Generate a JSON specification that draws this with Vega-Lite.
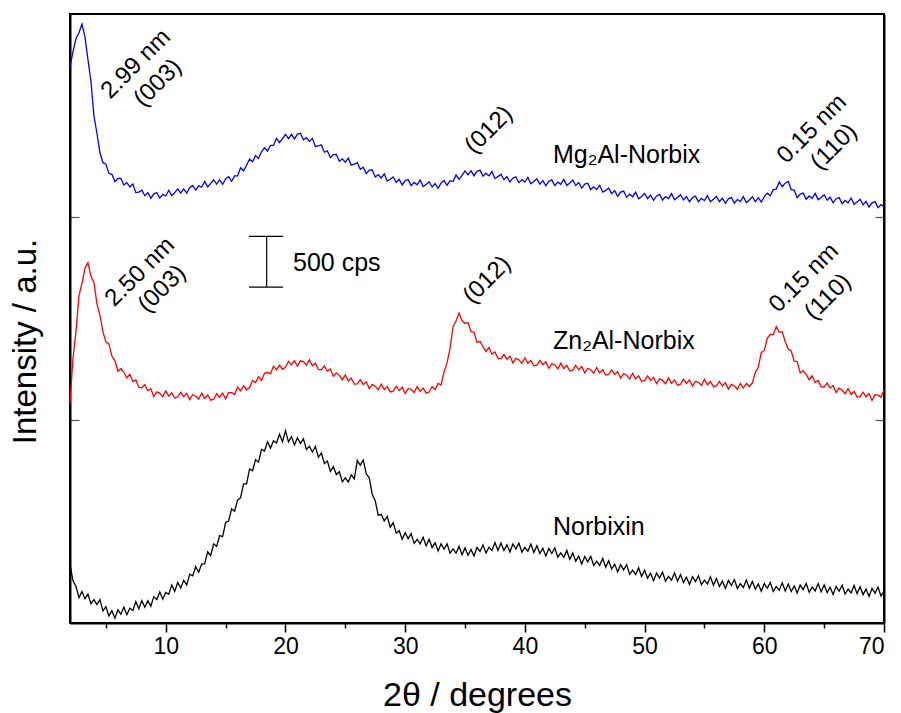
{
  "$schema": "https://vega.github.io/schema/vega-lite/v6.json",
  "autosize": {"type": "none"},
  "padding": {"left": 70, "top": 14, "right": 17, "bottom": 90},
  "width": 814,
  "height": 609,
  "background": "white",
  "config": {
    "view": {"stroke": "black", "strokeWidth": 2},
    "font": "Liberation Sans",
    "axis": {"grid": false, "domainColor": "black", "domainWidth": 2, "labelFont": "Liberation Sans", "titleFont": "Liberation Sans", "labelColor": "black", "titleColor": "black", "titleFontWeight": "normal"}
  },
  "datasets": {
    "xrd": [
{"t":2.0,"m":5480,"z":2167,"n":580},{"t":2.25,"m":5630,"z":2610,"n":415},{"t":2.5,"m":5758,"z":2870,"n":360},{"t":2.75,"m":5815,"z":3225,"n":250},
{"t":3.0,"m":5900,"z":3345,"n":310},{"t":3.25,"m":5775,"z":3495,"n":240},{"t":3.5,"m":5550,"z":3551,"n":285},{"t":3.75,"m":5335,"z":3415,"n":190},
{"t":4.0,"m":4995,"z":3355,"n":230},{"t":4.25,"m":4825,"z":3145,"n":182},{"t":4.5,"m":4635,"z":3034,"n":230},{"t":4.75,"m":4535,"z":2870,"n":120},
{"t":5.0,"m":4520,"z":2770,"n":160},{"t":5.25,"m":4430,"z":2750,"n":70},{"t":5.5,"m":4420,"z":2630,"n":120},{"t":5.75,"m":4350,"z":2585,"n":48},
{"t":6.0,"m":4380,"z":2480,"n":129},{"t":6.25,"m":4380,"z":2505,"n":87},{"t":6.5,"m":4315,"z":2470,"n":155},{"t":6.75,"m":4339,"z":2415,"n":82},
{"t":7.0,"m":4295,"z":2450,"n":145},{"t":7.25,"m":4325,"z":2379,"n":123},{"t":7.5,"m":4240,"z":2395,"n":210},{"t":7.75,"m":4245,"z":2325,"n":140},
{"t":8.0,"m":4265,"z":2315,"n":220},{"t":8.25,"m":4210,"z":2348,"n":155},{"t":8.5,"m":4240,"z":2290,"n":220},{"t":8.75,"m":4185,"z":2308,"n":165},
{"t":9.0,"m":4226,"z":2230,"n":260},{"t":9.25,"m":4241,"z":2277,"n":230},{"t":9.5,"m":4186,"z":2263,"n":305},{"t":9.75,"m":4223,"z":2230,"n":235},
{"t":10.0,"m":4207,"z":2287,"n":300},{"t":10.25,"m":4263,"z":2235,"n":282},{"t":10.5,"m":4210,"z":2268,"n":375},{"t":10.75,"m":4241,"z":2217,"n":312},
{"t":11.0,"m":4278,"z":2226,"n":400},{"t":11.25,"m":4235,"z":2273,"n":345},{"t":11.5,"m":4277,"z":2230,"n":420},{"t":11.75,"m":4235,"z":2263,"n":375},
{"t":12.0,"m":4288,"z":2201,"n":480},{"t":12.25,"m":4311,"z":2249,"n":465},{"t":12.5,"m":4265,"z":2237,"n":555},{"t":12.75,"m":4307,"z":2205,"n":500},
{"t":13.0,"m":4293,"z":2264,"n":580},{"t":13.25,"m":4350,"z":2213,"n":585},{"t":13.5,"m":4297,"z":2246,"n":700},{"t":13.75,"m":4330,"z":2196,"n":665},
{"t":14.0,"m":4367,"z":2206,"n":780},{"t":14.25,"m":4323,"z":2259,"n":755},{"t":14.5,"m":4365,"z":2222,"n":860},{"t":14.75,"m":4322,"z":2263,"n":850},
{"t":15.0,"m":4375,"z":2209,"n":990},{"t":15.25,"m":4398,"z":2269,"n":1005},{"t":15.5,"m":4352,"z":2270,"n":1125},{"t":15.75,"m":4405,"z":2252,"n":1100},
{"t":16.0,"m":4405,"z":2325,"n":1210},{"t":16.25,"m":4485,"z":2287,"n":1235},{"t":16.5,"m":4455,"z":2335,"n":1370},{"t":16.75,"m":4510,"z":2298,"n":1370},
{"t":17.0,"m":4571,"z":2320,"n":1518},{"t":17.25,"m":4545,"z":2390,"n":1500},{"t":17.5,"m":4605,"z":2370,"n":1610},{"t":17.75,"m":4577,"z":2427,"n":1585},
{"t":18.0,"m":4645,"z":2390,"n":1710},{"t":18.25,"m":4682,"z":2460,"n":1695},{"t":18.5,"m":4650,"z":2470,"n":1785},{"t":18.75,"m":4705,"z":2455,"n":1723},
{"t":19.0,"m":4705,"z":2530,"n":1795},{"t":19.25,"m":4775,"z":2493,"n":1773},{"t":19.5,"m":4733,"z":2540,"n":1860},{"t":19.75,"m":4772,"z":2500,"n":1786},
{"t":20.0,"m":4815,"z":2520,"n":1895},{"t":20.25,"m":4773,"z":2578,"n":1785},{"t":20.5,"m":4815,"z":2545,"n":1835},{"t":20.75,"m":4769,"z":2585,"n":1755},
{"t":21.0,"m":4817,"z":2530,"n":1825},{"t":21.25,"m":4825,"z":2583,"n":1768},{"t":21.5,"m":4760,"z":2576,"n":1815},{"t":21.75,"m":4781,"z":2541,"n":1710},
{"t":22.0,"m":4745,"z":2595,"n":1740},{"t":22.25,"m":4775,"z":2535,"n":1685},{"t":22.5,"m":4695,"z":2560,"n":1740},{"t":22.75,"m":4700,"z":2498,"n":1633},
{"t":23.0,"m":4710,"z":2495,"n":1675},{"t":23.25,"m":4638,"z":2533,"n":1570},{"t":23.5,"m":4652,"z":2482,"n":1596},{"t":23.75,"m":4585,"z":2503,"n":1493},
{"t":24.0,"m":4615,"z":2430,"n":1540},{"t":24.25,"m":4617,"z":2465,"n":1463},{"t":24.5,"m":4550,"z":2440,"n":1490},{"t":24.75,"m":4573,"z":2397,"n":1390},
{"t":25.0,"m":4540,"z":2445,"n":1430},{"t":25.25,"m":4580,"z":2385,"n":1390},{"t":25.5,"m":4510,"z":2412,"n":1460},{"t":25.75,"m":4520,"z":2353,"n":1420},
{"t":26.0,"m":4535,"z":2355,"n":1600},{"t":26.25,"m":4470,"z":2398,"n":1555},{"t":26.5,"m":4490,"z":2350,"n":1606},{"t":26.75,"m":4428,"z":2377,"n":1470},
{"t":27.0,"m":4462,"z":2310,"n":1430},{"t":27.25,"m":4463,"z":2351,"n":1265},{"t":27.5,"m":4395,"z":2333,"n":1205},{"t":27.75,"m":4417,"z":2298,"n":1060},
{"t":28.0,"m":4385,"z":2353,"n":1070},{"t":28.25,"m":4425,"z":2299,"n":1005},{"t":28.5,"m":4355,"z":2330,"n":1050},{"t":28.75,"m":4372,"z":2277,"n":945},
{"t":29.0,"m":4395,"z":2285,"n":990},{"t":29.25,"m":4340,"z":2332,"n":885},{"t":29.5,"m":4370,"z":2290,"n":910},{"t":29.75,"m":4316,"z":2323,"n":825},
{"t":30.0,"m":4357,"z":2262,"n":890},{"t":30.25,"m":4368,"z":2311,"n":832},{"t":30.5,"m":4310,"z":2300,"n":880},{"t":30.75,"m":4341,"z":2270,"n":785},
{"t":31.0,"m":4317,"z":2330,"n":825},{"t":31.25,"m":4363,"z":2280,"n":780},{"t":31.5,"m":4300,"z":2315,"n":845},{"t":31.75,"m":4321,"z":2265,"n":760},
{"t":32.0,"m":4348,"z":2275,"n":825},{"t":32.25,"m":4296,"z":2330,"n":743},{"t":32.5,"m":4329,"z":2300,"n":790},{"t":32.75,"m":4283,"z":2360,"n":710},
{"t":33.0,"m":4335,"z":2345,"n":780},{"t":33.25,"m":4359,"z":2475,"n":727},{"t":33.5,"m":4313,"z":2565,"n":780},{"t":33.75,"m":4358,"z":2705,"n":688},
{"t":34.0,"m":4349,"z":2921,"n":730},{"t":34.25,"m":4415,"z":2975,"n":687},{"t":34.5,"m":4370,"z":3054,"n":755},{"t":34.75,"m":4410,"z":2980,"n":672},
{"t":35.0,"m":4455,"z":2950,"n":740},{"t":35.25,"m":4415,"z":2960,"n":667},{"t":35.5,"m":4457,"z":2870,"n":725},{"t":35.75,"m":4407,"z":2865,"n":660},
{"t":36.0,"m":4450,"z":2765,"n":745},{"t":36.25,"m":4462,"z":2775,"n":705},{"t":36.5,"m":4403,"z":2724,"n":770},{"t":36.75,"m":4432,"z":2675,"n":690},
{"t":37.0,"m":4405,"z":2715,"n":745},{"t":37.25,"m":4447,"z":2650,"n":713},{"t":37.5,"m":4380,"z":2670,"n":792},{"t":37.75,"m":4398,"z":2607,"n":715},
{"t":38.0,"m":4422,"z":2605,"n":788},{"t":38.25,"m":4367,"z":2647,"n":714},{"t":38.5,"m":4398,"z":2600,"n":770},{"t":38.75,"m":4344,"z":2629,"n":699},
{"t":39.0,"m":4385,"z":2563,"n":778},{"t":39.25,"m":4396,"z":2608,"n":730},{"t":39.5,"m":4338,"z":2593,"n":787},{"t":39.75,"m":4369,"z":2558,"n":698},
{"t":40.0,"m":4345,"z":2613,"n":745},{"t":40.25,"m":4391,"z":2558,"n":707},{"t":40.5,"m":4327,"z":2588,"n":778},{"t":40.75,"m":4349,"z":2534,"n":695},
{"t":41.0,"m":4376,"z":2540,"n":762},{"t":41.25,"m":4324,"z":2587,"n":684},{"t":41.5,"m":4358,"z":2545,"n":736},{"t":41.75,"m":4307,"z":2575,"n":660},
{"t":42.0,"m":4351,"z":2510,"n":735},{"t":42.25,"m":4365,"z":2555,"n":685},{"t":42.5,"m":4309,"z":2540,"n":740},{"t":42.75,"m":4343,"z":2505,"n":648},
{"t":43.0,"m":4322,"z":2560,"n":690},{"t":43.25,"m":4371,"z":2507,"n":647},{"t":43.5,"m":4310,"z":2538,"n":715},{"t":43.75,"m":4335,"z":2485,"n":628},
{"t":44.0,"m":4364,"z":2492,"n":690},{"t":44.25,"m":4310,"z":2538,"n":609},{"t":44.5,"m":4340,"z":2495,"n":658},{"t":44.75,"m":4285,"z":2527,"n":582},
{"t":45.0,"m":4325,"z":2463,"n":655},{"t":45.25,"m":4333,"z":2509,"n":603},{"t":45.5,"m":4270,"z":2495,"n":657},{"t":45.75,"m":4297,"z":2461,"n":566},
{"t":46.0,"m":4270,"z":2517,"n":610},{"t":46.25,"m":4313,"z":2464,"n":568},{"t":46.5,"m":4245,"z":2496,"n":637},{"t":46.75,"m":4262,"z":2443,"n":550},
{"t":47.0,"m":4285,"z":2450,"n":613},{"t":47.25,"m":4230,"z":2494,"n":532},{"t":47.5,"m":4260,"z":2448,"n":580},{"t":47.75,"m":4205,"z":2477,"n":503},
{"t":48.0,"m":4245,"z":2412,"n":575},{"t":48.25,"m":4255,"z":2457,"n":523},{"t":48.5,"m":4195,"z":2441,"n":575},{"t":48.75,"m":4225,"z":2405,"n":480},
{"t":49.0,"m":4200,"z":2460,"n":520},{"t":49.25,"m":4245,"z":2405,"n":477},{"t":49.5,"m":4180,"z":2435,"n":545},{"t":49.75,"m":4203,"z":2381,"n":458},
{"t":50.0,"m":4232,"z":2388,"n":520},{"t":50.25,"m":4181,"z":2434,"n":440},{"t":50.5,"m":4215,"z":2390,"n":490},{"t":50.75,"m":4164,"z":2421,"n":416},
{"t":51.0,"m":4208,"z":2358,"n":492},{"t":51.25,"m":4222,"z":2405,"n":443},{"t":51.5,"m":4167,"z":2391,"n":500},{"t":51.75,"m":4201,"z":2357,"n":412},
{"t":52.0,"m":4181,"z":2414,"n":460},{"t":52.25,"m":4230,"z":2361,"n":422},{"t":52.5,"m":4170,"z":2394,"n":494},{"t":52.75,"m":4193,"z":2343,"n":411},
{"t":53.0,"m":4220,"z":2352,"n":478},{"t":53.25,"m":4168,"z":2401,"n":400},{"t":53.5,"m":4201,"z":2360,"n":452},{"t":53.75,"m":4149,"z":2394,"n":380},
{"t":54.0,"m":4192,"z":2333,"n":457},{"t":54.25,"m":4206,"z":2382,"n":409},{"t":54.5,"m":4150,"z":2371,"n":465},{"t":54.75,"m":4183,"z":2340,"n":377},
{"t":55.0,"m":4161,"z":2399,"n":423},{"t":55.25,"m":4210,"z":2347,"n":384},{"t":55.5,"m":4150,"z":2380,"n":456},{"t":55.75,"m":4174,"z":2328,"n":372},
{"t":56.0,"m":4202,"z":2335,"n":438},{"t":56.25,"m":4151,"z":2380,"n":360},{"t":56.5,"m":4185,"z":2335,"n":413},{"t":56.75,"m":4135,"z":2367,"n":340},
{"t":57.0,"m":4179,"z":2305,"n":418},{"t":57.25,"m":4193,"z":2351,"n":370},{"t":57.5,"m":4138,"z":2337,"n":428},{"t":57.75,"m":4172,"z":2303,"n":340},
{"t":58.0,"m":4152,"z":2360,"n":388},{"t":58.25,"m":4202,"z":2315,"n":351},{"t":58.5,"m":4142,"z":2360,"n":424},{"t":58.75,"m":4168,"z":2330,"n":342},
{"t":59.0,"m":4200,"z":2365,"n":410},{"t":59.25,"m":4152,"z":2470,"n":333},{"t":59.5,"m":4190,"z":2520,"n":385},{"t":59.75,"m":4147,"z":2665,"n":313},
{"t":60.0,"m":4200,"z":2685,"n":390},{"t":60.25,"m":4235,"z":2805,"n":342},{"t":60.5,"m":4210,"z":2845,"n":399},{"t":60.75,"m":4270,"z":2841,"n":311},
{"t":61.0,"m":4275,"z":2921,"n":358},{"t":61.25,"m":4345,"z":2865,"n":322},{"t":61.5,"m":4300,"z":2870,"n":396},{"t":61.75,"m":4335,"z":2770,"n":315},
{"t":62.0,"m":4350,"z":2700,"n":385},{"t":62.25,"m":4270,"z":2680,"n":310},{"t":62.5,"m":4265,"z":2580,"n":365},{"t":62.75,"m":4190,"z":2575,"n":295},
{"t":63.0,"m":4225,"z":2465,"n":375},{"t":63.25,"m":4235,"z":2487,"n":329},{"t":63.5,"m":4175,"z":2450,"n":389},{"t":63.75,"m":4207,"z":2397,"n":303},
{"t":64.0,"m":4185,"z":2435,"n":353},{"t":64.25,"m":4233,"z":2370,"n":316},{"t":64.5,"m":4171,"z":2390,"n":389},{"t":64.75,"m":4193,"z":2327,"n":307},
{"t":65.0,"m":4220,"z":2325,"n":375},{"t":65.25,"m":4165,"z":2365,"n":299},{"t":65.5,"m":4195,"z":2315,"n":353},{"t":65.75,"m":4140,"z":2340,"n":281},
{"t":66.0,"m":4180,"z":2270,"n":360},{"t":66.25,"m":4191,"z":2313,"n":313},{"t":66.5,"m":4132,"z":2295,"n":372},{"t":66.75,"m":4163,"z":2258,"n":285},
{"t":67.0,"m":4140,"z":2310,"n":333},{"t":67.25,"m":4187,"z":2253,"n":296},{"t":67.5,"m":4125,"z":2282,"n":370},{"t":67.75,"m":4147,"z":2226,"n":288},
{"t":68.0,"m":4175,"z":2230,"n":357},{"t":68.25,"m":4121,"z":2275,"n":280},{"t":68.5,"m":4153,"z":2230,"n":334},{"t":68.75,"m":4099,"z":2259,"n":262},
{"t":69.0,"m":4140,"z":2193,"n":340},{"t":69.25,"m":4151,"z":2249,"n":294},{"t":69.5,"m":4092,"z":2245,"n":352},{"t":69.75,"m":4123,"z":2225,"n":266},
{"t":70.0,"m":4100,"z":2295,"n":315}
    ]
  },
  "resolve": {"axis": {"y": "independent"}},
  "encoding": {
    "x": {"field": "t", "type": "quantitative",
      "scale": {"domain": [2, 70], "nice": false, "zero": false},
      "axis": {"title": "2θ / degrees", "values": [5,10,15,20,25,30,35,40,45,50,55,60,65,70],
        "labelExpr": "datum.value % 10 === 0 ? datum.label : ''",
        "tickSize": {"condition": {"test": "datum.value % 10 === 0", "value": 9}, "value": 5},
        "tickColor": "black", "tickWidth": 1.5, "labelFontSize": 23, "labelPadding": 3,
        "titleFontSize": 34, "titleBaseline": "alphabetic", "titleY": 82}},
    "y": {"field": "v", "type": "quantitative",
      "scale": {"domain": [0, 6000], "nice": false},
      "axis": {"title": "Intensity / a.u.", "values": [2000, 4000], "labels": false,
        "tickSize": -9, "tickColor": "#555555", "tickWidth": 1.2,
        "titleFontSize": 33, "titleBaseline": "alphabetic", "titleX": -35, "titleY": 327, "titleAngle": 270, "titleAlign": "center"}}
  },
  "layer": [
    {
      "data": {"name": "xrd"},
      "transform": [{"fold": ["m", "z", "n"], "as": ["s", "v"]}],
      "mark": {"type": "line", "strokeWidth": 1.3},
      "encoding": {
        "color": {"field": "s", "type": "nominal", "scale": {"domain": ["m", "z", "n"], "range": ["#0000FF", "#FF0000", "#000000"]}, "legend": null}
      }
    },
    {
      "data": {"values": [
        {"t": 18.43, "t2": 18.43, "v": 3310, "v2": 3810},
        {"t": 16.95, "t2": 19.8, "v": 3310, "v2": 3310},
        {"t": 16.95, "t2": 19.8, "v": 3810, "v2": 3810}
      ]},
      "mark": {"type": "rule", "color": "black", "strokeWidth": 1.2},
      "encoding": {
        "y": {"field": "v", "type": "quantitative", "scale": {"domain": [0, 6000], "nice": false}, "axis": null},
        "x2": {"field": "t2"}, "y2": {"field": "v2"}}
    },
    {
      "data": {"values": [
        {"t": 7.51, "v": 5507, "label": "2.99 nm"},
        {"t": 9.35, "v": 5320, "label": "(003)"},
        {"t": 37.0, "v": 4857, "label": "(012)"},
        {"t": 63.99, "v": 4867, "label": "0.15 nm"},
        {"t": 65.83, "v": 4690, "label": "(110)"},
        {"t": 7.85, "v": 3458, "label": "2.50 nm"},
        {"t": 9.69, "v": 3291, "label": "(003)"},
        {"t": 36.84, "v": 3379, "label": "(012)"},
        {"t": 63.32, "v": 3399, "label": "0.15 nm"},
        {"t": 65.33, "v": 3212, "label": "(110)"}
      ]},
      "mark": {"type": "text", "angle": -45, "align": "center", "baseline": "middle", "fontSize": 24, "font": "Liberation Sans", "color": "black"},
      "encoding": {
        "y": {"field": "v", "type": "quantitative", "scale": {"domain": [0, 6000], "nice": false},
          "axis": {"orient": "right", "title": null, "labels": false, "values": [2000, 4000], "tickSize": -9, "tickColor": "#555555", "tickWidth": 1.2}},
        "text": {"field": "label"}}
    },
    {
      "data": {"values": [
        {"t": 42.35, "v": 4532, "label": "Mg₂Al-Norbix"},
        {"t": 42.35, "v": 2699, "label": "Zn₂Al-Norbix"},
        {"t": 42.35, "v": 867, "label": "Norbixin"},
        {"t": 20.63, "v": 3468, "label": "500 cps"}
      ]},
      "mark": {"type": "text", "align": "left", "baseline": "alphabetic", "fontSize": 25, "font": "Liberation Sans", "color": "black"},
      "encoding": {
        "y": {"field": "v", "type": "quantitative", "scale": {"domain": [0, 6000], "nice": false}, "axis": null},
        "text": {"field": "label"}}
    }
  ]
}
